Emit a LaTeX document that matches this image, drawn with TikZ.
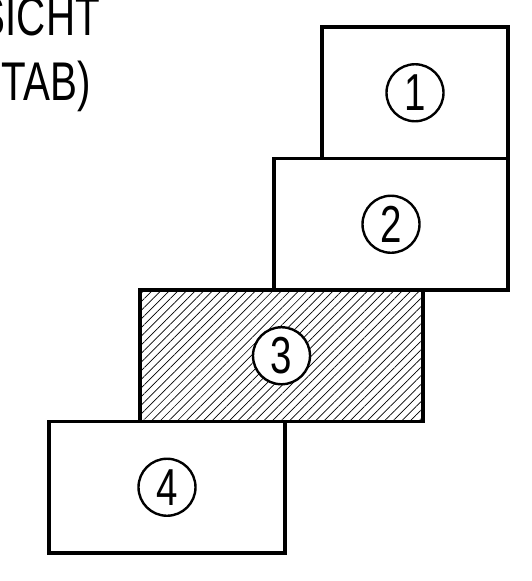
\documentclass[tikz,border=0pt]{standalone}
\usepackage{fontspec}
\newfontfamily\narrowfont[FakeStretch=0.74]{Liberation Sans}
\usetikzlibrary{positioning, patterns.meta}

\begin{document}
\begin{tikzpicture}[%
    x=1pt, y=-1pt,
    block/.style={draw, line width=3.5pt, outer sep=0pt, inner sep=0pt,
      minimum height=131.5pt},
    num/.style={circle, draw, fill=white, line width=2.4pt, minimum size=57pt,
      inner sep=0pt, font=\narrowfont\fontsize{52}{52}\selectfont},
    caption/.style={anchor=base east, inner sep=0pt,
      font=\narrowfont\fontsize{54.5}{60}\selectfont},
    hatched/.style={pattern={Lines[angle=45, distance=6.1pt, line width=0.7pt]}}
  ]
  \useasboundingbox (0,0) rectangle (532,581);

  \node[caption] (upper) at (100,35) {SICHT};
  \node[caption] (lower) at (91,100) {TAB)};

  \node[block, minimum width=186pt, anchor=north west] (B1) at (322,27) {};
  \node[block, minimum width=234pt, anchor=north east] (B2) at (B1.south east) {};
  \node[block, hatched, minimum width=283pt, anchor=north west] (B3) at (140,290) {};
  \node[block, minimum width=236pt, anchor=north west] (B4) at (49,421.5) {};

  \node[num] (N1) at (B1) {1};
  \node[num] (N2) at (B2) {2};
  \node[num] (N3) at (B3) {3};
  \node[num] (N4) at (B4) {4};
\end{tikzpicture}
\end{document}
